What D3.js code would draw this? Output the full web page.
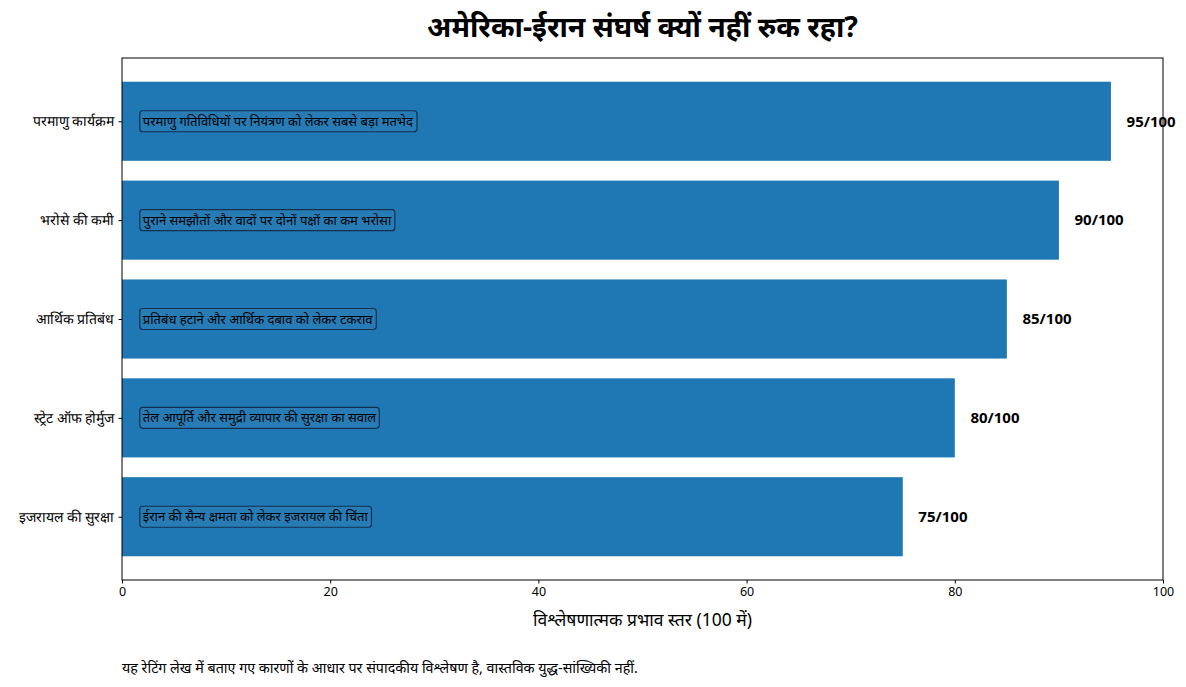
<!DOCTYPE html>
<html>
<head>
<meta charset="utf-8">
<script src="https://cdn.jsdelivr.net/npm/d3@7"></script>
<style>
  html, body { margin: 0; padding: 0; background: #fff; }
  svg { display: block; font-family: "Noto Sans", "Noto Sans Devanagari", "Lato", sans-serif; }
</style>
</head>
<body>
<svg id="chart" width="1186" height="687"></svg>
<script>
const categories = ["परमाणु कार्यक्रम", "भरोसे की कमी", "आर्थिक प्रतिबंध", "स्ट्रेट ऑफ होर्मुज", "इजरायल की सुरक्षा"];
const values = [95, 90, 85, 80, 75];
const notes = [
  "परमाणु गतिविधियों पर नियंत्रण को लेकर सबसे बड़ा मतभेद",
  "पुराने समझौतों और वादों पर दोनों पक्षों का कम भरोसा",
  "प्रतिबंध हटाने और आर्थिक दबाव को लेकर टकराव",
  "तेल आपूर्ति और समुद्री व्यापार की सुरक्षा का सवाल",
  "ईरान की सैन्य क्षमता को लेकर इजरायल की चिंता"
];
const xTicks = [0, 20, 40, 60, 80, 100];
const titleText = "अमेरिका-ईरान संघर्ष क्यों नहीं रुक रहा?";
const xLabelText = "विश्लेषणात्मक प्रभाव स्तर (100 में)";
const footerText = "यह रेटिंग लेख में बताए गए कारणों के आधार पर संपादकीय विश्लेषण है, वास्तविक युद्ध-सांख्यिकी नहीं.";

(function () {
const svg = d3.select("#chart");
const mLeft = 122, mRight = 1163, mTop = 58, mBottom = 580;
const barH = 0.8;

const x = d3.scaleLinear().domain([0, 100]).range([mLeft, mRight]);
const y = d3.scaleLinear().domain([-0.64, 4.64]).range([mTop, mBottom]);

const color = "#1f77b4";

svg.append("g").selectAll("rect").data(values).join("rect")
  .attr("x", x(0))
  .attr("y", (d, i) => y(i - barH / 2))
  .attr("width", d => x(d) - x(0))
  .attr("height", (d, i) => y(i + barH / 2) - y(i - barH / 2))
  .attr("fill", color);

svg.append("rect")
  .attr("x", mLeft).attr("y", mTop)
  .attr("width", mRight - mLeft).attr("height", mBottom - mTop)
  .attr("fill", "none").attr("stroke", "#000").attr("stroke-width", 1);

const xAxis = d3.axisBottom(x).tickValues(xTicks).tickSize(3.5).tickPadding(3.5).tickFormat(d3.format("d"));
const gx = svg.append("g").attr("transform", `translate(0,${mBottom})`).call(xAxis);
gx.select(".domain").remove();
gx.selectAll("text").attr("font-size", 12.5).attr("fill", "#000").attr("font-family", "Noto Sans, sans-serif");
gx.selectAll("line").attr("stroke", "#000");

const yAxis = d3.axisLeft(y).tickValues(d3.range(categories.length)).tickFormat(i => categories[i]).tickSize(3.5).tickPadding(4);
const gy = svg.append("g").attr("transform", `translate(${mLeft},0)`).call(yAxis);
gy.select(".domain").remove();
gy.selectAll("text").attr("font-size", 14).attr("fill", "#000");
gy.selectAll("line").attr("stroke", "#000");

svg.append("g").selectAll("text").data(values).join("text")
  .attr("x", d => x(d + 1.5))
  .attr("y", (d, i) => y(i))
  .attr("dy", "0.35em")
  .attr("font-size", 15)
  .attr("font-weight", "bold")
  .attr("fill", "#000")
  .text(d => `${d}/100`);

const ann = svg.append("g");
notes.forEach((t, i) => {
  const g = ann.append("g");
  const txt = g.append("text")
    .attr("x", x(2))
    .attr("y", y(i))
    .attr("dy", "0.35em")
    .attr("font-size", 13)
    .attr("fill", "#000")
    .text(t);
  const bb = txt.node().getBBox();
  g.insert("rect", "text")
    .attr("x", bb.x - 3)
    .attr("y", y(i) - 10.5)
    .attr("width", bb.width + 6)
    .attr("height", 21)
    .attr("rx", 3).attr("ry", 3)
    .attr("fill", "rgba(255,255,255,0.04)")
    .attr("stroke", "#15304f")
    .attr("stroke-width", 1.2);
});

svg.append("text")
  .attr("x", (mLeft + mRight) / 2)
  .attr("y", 37)
  .attr("text-anchor", "middle")
  .attr("font-size", 28.5)
  .attr("font-weight", "bold")
  .attr("fill", "#000")
  .text(titleText);

svg.append("text")
  .attr("x", (mLeft + mRight) / 2)
  .attr("y", 626)
  .attr("text-anchor", "middle")
  .attr("font-size", 17.5)
  .attr("fill", "#000")
  .text(xLabelText);

svg.append("text")
  .attr("x", mLeft)
  .attr("y", 673)
  .attr("font-size", 14.3)
  .attr("fill", "#000")
  .text(footerText);
})();
</script>
</body>
</html>
